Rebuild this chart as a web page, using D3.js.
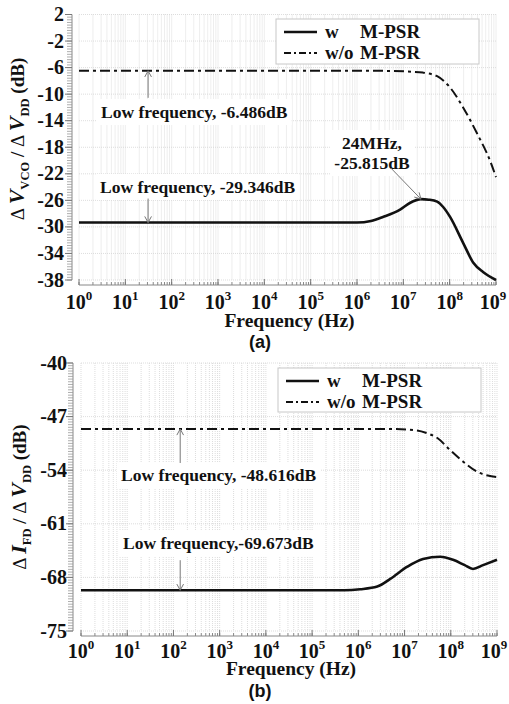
<!DOCTYPE html>
<html>
<head>
<meta charset="utf-8" />
<script src="https://d3js.org/d3.v7.min.js"></script>
<style>
    body { margin: 0; background: #fff; }
    text { font-family: "Liberation Serif", "Times New Roman", serif; font-weight: bold; fill: #111; }
</style>
</head>
<body>
<svg id="svg"></svg>
<script>

// ---- data ----
let decadeExp = [0, 1, 2, 3, 4, 5, 6, 7, 8, 9];
let topTicks = [2, -2, -6, -10, -14, -18, -22, -26, -30, -34, -38];
let botTicks = [-40, -47, -54, -61, -68, -75];
let legendPrefix = ["w", "w/o"];
let legendName = "M-PSR";

// (a) dVvco/dVdd
let aWoFreq = [1, 1e6, 6.3e6, 1.26e7, 2.63e7, 5.37e7, 1.02e8, 1.95e8, 3.89e8, 7.41e8, 1e9];
let aWoDb   = [-6.486, -6.486, -6.5, -6.6, -6.75, -7.3, -9.0, -12.0, -15.9, -20.0, -22.5];
let aWFreq  = [1, 1e6, 2e6, 3.63e6, 8.51e6, 1.38e7, 2.4e7, 3.55e7, 5.37e7, 7.24e7, 1.02e8, 1.95e8, 3.24e8, 5.25e8, 1e9];
let aWDb    = [-29.346, -29.346, -29.1, -28.5, -27.4, -26.4, -25.815, -25.9, -26.2, -27.0, -28.5, -32.4, -35.4, -36.8, -38.0];

// (b) dIfd/dVdd
let bWoFreq = [1, 5.62e6, 1.86e7, 3.16e7, 5.13e7, 9.77e7, 1.86e8, 3.72e8, 6.31e8, 1e9];
let bWoDb   = [-48.616, -48.616, -48.8, -49.2, -49.8, -51.4, -52.9, -54.2, -54.7, -54.9];
let bWFreq  = [1, 5e5, 1.1e6, 2.57e6, 4.9e6, 1.15e7, 2.51e7, 5.89e7, 1.12e8, 2e8, 3.02e8, 5.01e8, 1e9];
let bWDb    = [-69.673, -69.673, -69.55, -69.2, -68.2, -66.6, -65.6, -65.3, -65.7, -66.4, -66.9, -66.4, -65.7];

let realW = 509;
let realH = 704;

let svg = d3.select("#svg")
    .attr("width", realW)
    .attr("height", realH);

function zip(f, v) {
    return f.map((d, i) => ({ f: d, v: v[i] }));
}

function drawPanel(p) {
    let g = svg.append("g");
    let x = d3.scaleLog().domain([1, 1e9]).range([p.x0, p.x1]);
    let y = d3.scaleLinear().domain(p.domain).range([p.yBot, p.yTop]);

    // grid
    let minor = [];
    for (let d = 0; d < 9; d++) {
        for (let m = 1; m < 10; m++) minor.push(m * Math.pow(10, d));
    }
    minor.push(1e9);
    g.selectAll(".vgrid").data(minor).enter().append("line")
        .attr("x1", d => x(d)).attr("x2", d => x(d))
        .attr("y1", p.yTop).attr("y2", p.yBot)
        .attr("stroke", "#d4d4d4").attr("stroke-width", 0.8)
        .attr("stroke-dasharray", "1,1");
    g.selectAll(".hgrid").data(p.ticks).enter().append("line")
        .attr("x1", p.x0).attr("x2", p.x1)
        .attr("y1", d => y(d)).attr("y2", d => y(d))
        .attr("stroke", "#d4d4d4").attr("stroke-width", 0.8)
        .attr("stroke-dasharray", "1,1");

    // y axis
    g.append("line")
        .attr("x1", p.axisX).attr("x2", p.axisX)
        .attr("y1", p.yTop).attr("y2", p.yBot)
        .attr("stroke", "#888");
    let yMinor = d3.range(p.domain[0], p.domain[1] + 0.001, p.minorStep);
    g.selectAll(".ymin").data(yMinor).enter().append("line")
        .attr("x1", p.axisX - 5).attr("x2", p.axisX)
        .attr("y1", d => y(d)).attr("y2", d => y(d))
        .attr("stroke", "#999").attr("stroke-width", 0.8);
    g.selectAll(".ytick").data(p.ticks).enter().append("line")
        .attr("x1", p.axisX - 7).attr("x2", p.axisX)
        .attr("y1", d => y(d)).attr("y2", d => y(d))
        .attr("stroke", "#777");
    g.selectAll(".ylab").data(p.ticks).enter().append("text")
        .attr("x", p.labelX).attr("y", d => y(d) + 6.5)
        .attr("text-anchor", "end")
        .attr("font-size", 20)
        .text(d => d);

    // x axis
    g.append("line")
        .attr("x1", p.x0).attr("x2", p.x1)
        .attr("y1", p.axisY).attr("y2", p.axisY)
        .attr("stroke", "#888");
    g.selectAll(".xmin").data(minor).enter().append("line")
        .attr("x1", d => x(d)).attr("x2", d => x(d))
        .attr("y1", p.axisY).attr("y2", p.axisY - 3)
        .attr("stroke", "#888");
    g.selectAll(".xtick").data(decadeExp).enter().append("line")
        .attr("x1", d => x(Math.pow(10, d))).attr("x2", d => x(Math.pow(10, d)))
        .attr("y1", p.axisY).attr("y2", p.axisY - 6)
        .attr("stroke", "#777");
    let xl = g.selectAll(".xlab").data(decadeExp).enter().append("text")
        .attr("x", d => x(Math.pow(10, d)) - (d == 9 ? 3 : 0))
        .attr("y", p.tickBase)
        .attr("text-anchor", "middle")
        .attr("font-size", 20);
    xl.append("tspan").text("10");
    xl.append("tspan").attr("dy", -9).attr("font-size", 13).text(d => d);

    g.append("text")
        .attr("x", (p.x0 + p.x1) / 2 + 2).attr("y", p.titleBase)
        .attr("text-anchor", "middle")
        .attr("font-size", 19.5)
        .text("Frequency (Hz)");
    g.append("text")
        .attr("x", 260).attr("y", p.captionBase)
        .attr("text-anchor", "middle")
        .attr("font-size", 18)
        .style("font-family", "'Liberation Sans', Arial, sans-serif")
        .text(p.caption);

    // y title
    let yt = g.append("text")
        .attr("transform", "translate(" + p.yTitleX + "," + p.yTitleY + ") rotate(-90)")
        .attr("text-anchor", "middle")
        .attr("font-size", 19);
    yt.append("tspan").attr("font-weight", "normal").text("\u0394 ");
    yt.append("tspan").attr("font-style", "italic").attr("font-size", 22).text(p.yNum);
    yt.append("tspan").attr("font-size", 12.5).attr("dy", 5).text(p.yNumSub);
    yt.append("tspan").attr("dy", -5).text(" / ");
    yt.append("tspan").attr("font-weight", "normal").text("\u0394 ");
    yt.append("tspan").attr("font-style", "italic").attr("font-size", 22).text("V");
    yt.append("tspan").attr("font-size", 12.5).attr("dy", 5).text("DD");
    yt.append("tspan").attr("dy", -5).text(" (dB)");

    // annotation labels (white boxes)
    p.notes.forEach(n => {
        let tg = g.append("g");
        let t = tg.append("text")
            .attr("font-size", 17.5);
        n.lines.forEach((s, i) => {
            t.append("tspan")
                .attr("x", n.tx).attr("y", n.ty + i * 20)
                .attr("text-anchor", n.anchor || "start")
                .text(s);
        });
        let bb = t.node().getBBox();
        tg.insert("rect", "text")
            .attr("x", bb.x - 4).attr("y", bb.y - 3)
            .attr("width", bb.width + 8).attr("height", bb.height + 6)
            .attr("fill", "#fff");
    });

    // curves
    let line = d3.line()
        .x(d => x(d.f))
        .y(d => y(d.v))
        .curve(d3.curveMonotoneX);
    g.append("path")
        .attr("d", line(zip(p.woF, p.woV)))
        .attr("fill", "none")
        .attr("stroke", "#111")
        .attr("stroke-width", 2)
        .attr("stroke-dasharray", "10,4,3,4");
    g.append("path")
        .attr("d", line(zip(p.wF, p.wV)))
        .attr("fill", "none")
        .attr("stroke", "#111")
        .attr("stroke-width", 2.6);

    // arrows
    p.notes.forEach(n => {
        let tx = x(n.f), ty = y(n.v);
        let sx = tx + n.dx, sy = ty + n.dy;
        g.append("line")
            .attr("x1", sx).attr("y1", sy).attr("x2", tx).attr("y2", ty)
            .attr("stroke", "#777").attr("stroke-width", 1);
        let ang = Math.atan2(sy - ty, sx - tx);
        let a1 = ang + 0.5, a2 = ang - 0.5, L = 7;
        g.append("path")
            .attr("d", "M" + (tx + L * Math.cos(a1)) + "," + (ty + L * Math.sin(a1)) +
                "L" + tx + "," + ty +
                "L" + (tx + L * Math.cos(a2)) + "," + (ty + L * Math.sin(a2)))
            .attr("fill", "none")
            .attr("stroke", "#777").attr("stroke-width", 1);
    });

    // legend
    let lg = g.append("g");
    lg.append("rect")
        .attr("x", p.leg.x).attr("y", p.leg.y)
        .attr("width", p.leg.w).attr("height", p.leg.h)
        .attr("fill", "#fff")
        .attr("stroke", "#c8c8c8");
    legendPrefix.forEach((s, i) => {
        let ly = p.leg.y + 13 + i * 21;
        lg.append("line")
            .attr("x1", p.leg.x + 8).attr("x2", p.leg.x + 41)
            .attr("y1", ly).attr("y2", ly)
            .attr("stroke", "#111")
            .attr("stroke-width", i == 0 ? 2.6 : 2)
            .attr("stroke-dasharray", i == 0 ? null : "7,3,2,3");
        lg.append("text")
            .attr("x", p.leg.x + 49).attr("y", ly + 6)
            .attr("font-size", 19)
            .text(s);
        lg.append("text")
            .attr("x", p.leg.x + 84).attr("y", ly + 6)
            .attr("font-size", 19)
            .text(legendName);
    });
}

drawPanel({
    x0: 79, x1: 496, yTop: 14.5, yBot: 280,
    domain: [-38, 2], ticks: topTicks, minorStep: 0.4,
    axisX: 72, axisY: 285, labelX: 64,
    tickBase: 309, titleBase: 327, caption: "(a)", captionBase: 348,
    yNum: "V", yNumSub: "VCO", yTitleX: 24, yTitleY: 139,
    woF: aWoFreq, woV: aWoDb, wF: aWFreq, wV: aWDb,
    leg: { x: 276, y: 19, w: 203, h: 45 },
    notes: [
        { lines: ["Low frequency, -6.486dB"], tx: 101, ty: 118, f: 31, v: -6.486, dx: 0, dy: 27 },
        { lines: ["24MHz,", "-25.815dB"], tx: 372, ty: 149, anchor: "middle", f: 2.4e7, v: -25.815, dx: -30, dy: -31 },
        { lines: ["Low frequency, -29.346dB"], tx: 100, ty: 193, f: 31, v: -29.346, dx: 0, dy: -24 }
    ]
});

drawPanel({
    x0: 81, x1: 497, yTop: 363, yBot: 631,
    domain: [-75, -40], ticks: botTicks, minorStep: 0.35,
    axisX: 73, axisY: 636, labelX: 67,
    tickBase: 658, titleBase: 675, caption: "(b)", captionBase: 697,
    yNum: "I", yNumSub: "FD", yTitleX: 26, yTitleY: 497,
    woF: bWoFreq, woV: bWoDb, wF: bWFreq, wV: bWDb,
    leg: { x: 278, y: 368, w: 203, h: 44 },
    notes: [
        { lines: ["Low frequency, -48.616dB"], tx: 121, ty: 481, f: 140, v: -48.616, dx: 0, dy: 34 },
        { lines: ["Low frequency,-69.673dB"], tx: 123, ty: 549, f: 140, v: -69.673, dx: 0, dy: -30 }
    ]
});

</script>
</body>
</html>
